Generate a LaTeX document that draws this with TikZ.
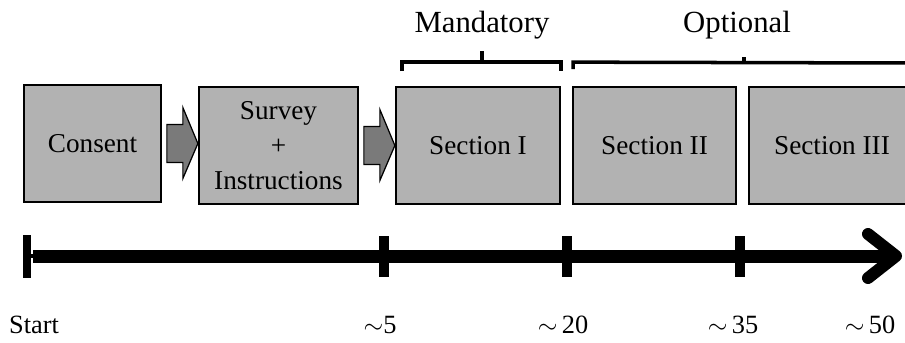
\documentclass[tikz,border=0pt]{standalone}
\usepackage{fontspec}
\setmainfont{Liberation Serif}
\usetikzlibrary{calc}
\definecolor{boxfill}{gray}{0.70}
\definecolor{arrfill}{gray}{0.48}

\begin{document}
\begin{tikzpicture}[x=0.02cm,y=-0.02cm,
  stage/.style={draw=black,line width=1pt,fill=boxfill,minimum height=2.34cm,
    inner sep=0pt,align=center,font=\fontsize{15.5}{20}\selectfont},
  blockarr/.style={draw=black,line width=0.7pt,fill=arrfill},
  brace/.style={line width=2pt},
  head/.style={font=\fontsize{17.5}{21}\selectfont},
  when/.style={font=\fontsize{15}{18}\selectfont,anchor=base},
  axis/.style={line width=0.26cm}]
\useasboundingbox (0,0) rectangle (905,342);
\clip (0,0) rectangle (905,342);
% stages
\node[stage,minimum width=2.74cm] (consent) at (92.5,143.5) {Consent};
\node[stage,minimum width=3.18cm] (survey) at (278.5,145.5) {Survey\\+\\Instructions};
\node[stage,minimum width=3.28cm] (secI) at (478,145.5) {Section I};
\node[stage,minimum width=3.26cm] (secII) at (654.5,145.5) {Section II};
\node[stage,minimum width=3.32cm] (secIII) at (832,145.5) {Section III};
% block arrows
\foreach \b in {consent,survey}
  \draw[blockarr] ($(\b.east)+(5,-19)$) -- ++(16,0) -- ++(0,-17) -- ++(15,36)
     -- ++(-15,35) -- ++(0,-16) -- ++(-16,0) -- cycle;
% braces
\draw[brace] ($(secI.north west)+(7,-15)$) -- ++(0,-9) -| ($(secI.north east)+(0,-15)$);
\draw[brace] (482,63) -- (482,51);
\node[head] (mand) at (482,25) {Mandatory};
\draw[brace] ($(secII.north west)+(1,-17)$) -- ++(0,-7) -- (910,63);
\draw[brace] (744,64) -- (744,57);
\node[head] (opt) at (737,25) {Optional};
% time line
\draw[line width=2.5pt] (23,256) -- (33,256);
\draw[axis] (33,256) -- (896,256);
\draw[line width=0.24cm,line cap=round,line join=round] (868,234) -- (896,256) -- (868,278);
\draw[line width=4pt] (27,235) -- (27,278);
\foreach \x in {384,567,740}
  \draw[line width=0.2cm] (\x,236) -- (\x,277);
% minutes
\foreach \x/\n/\t in {34/lstart/Start,380/l5/{$\sim$5},563/l20/{$\sim$\,20},733/l35/{$\sim$\,35},870/l50/{$\sim$\,50}}
  \node[when] (\n) at (\x,333) {\t};
\end{tikzpicture}
\end{document}
